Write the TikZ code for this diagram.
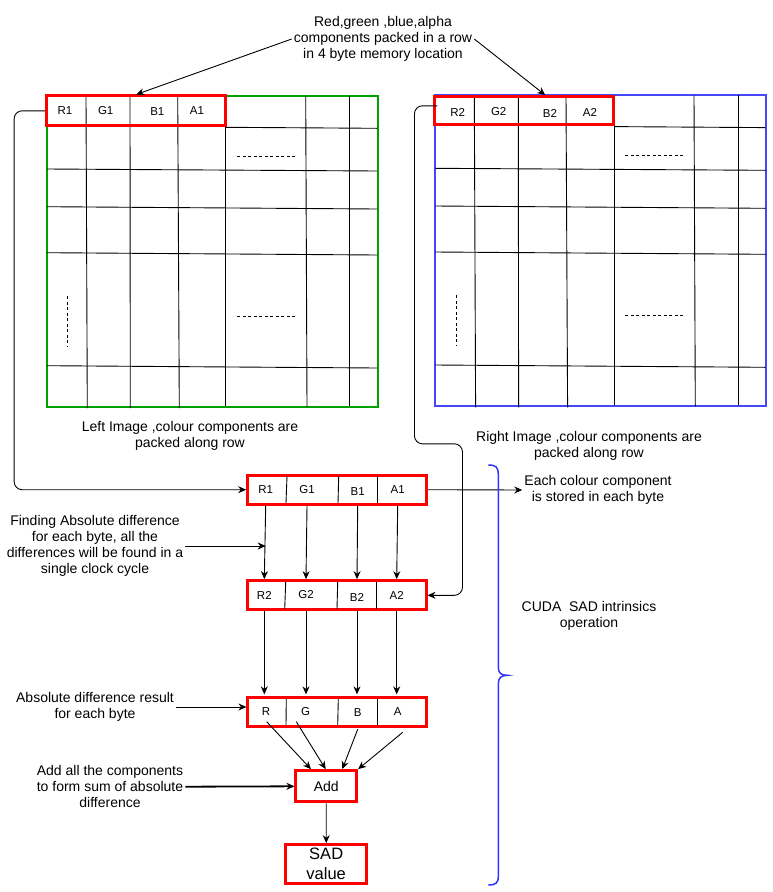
\documentclass[tikz,border=0pt]{standalone}
\usepackage{fontspec}
\setmainfont{Liberation Sans}
\usepackage{xcolor}
\usetikzlibrary{arrows.meta,calc}

\definecolor{imggreen}{RGB}{0,160,0}
\definecolor{imgblue}{RGB}{70,70,255}
\definecolor{bracecol}{RGB}{51,51,255}

\begin{document}
\begin{tikzpicture}[x=1pt, y=-1pt,
    regbox/.style={draw=red, line width=3pt, inner sep=0pt},
    cell/.style={font=\fontsize{11.5}{13}\selectfont, inner sep=1pt},
    note/.style={align=center, font=\fontsize{14}{16.2}\selectfont, inner sep=2pt},
    arrow/.style={-{Stealth[length=8pt,width=7pt]}, line width=0.9pt},
    gridline/.style={line width=0.9pt},
    dots/.style={dash pattern=on 3pt off 2.5pt, line width=0.7pt}
]
    \useasboundingbox (0,0) rectangle (773,892);

    % the two images (left green, right blue)
    \foreach \dx/\dy/\col in {0/0/imggreen, 388.3/0.7/imgblue} {
        \begin{scope}[xshift=\dx, yshift=\dy]
            \draw[\col, line width=2pt] (46.7,96) rectangle (377.7,406.7);
            \draw[gridline] (225.7,127.3) -- (377,128.3);
            \draw[gridline] (47,169) -- (377,171);
            \draw[gridline] (47,206.7) -- (377,209);
            \draw[gridline] (47,252.7) -- (377,255);
            \draw[gridline] (47,365.7) -- (377,368);
            \draw[gridline] (86,96) -- (87.3,408);
            \draw[gridline] (130,96) -- (130.3,408);
            \draw[gridline] (177.7,96) -- (179.3,408);
            \draw[gridline] (225.7,96) -- (225.7,406);
            \draw[gridline] (305.7,96) -- (307,407);
            \draw[gridline] (349.7,96) -- (349.7,406);
            \draw[dots] (237,156.3) -- (295,156.3);
            \draw[dots] (237,316) -- (295,316);
            \draw[dots] (67.7,296) -- (67.7,346.7);
        \end{scope}
    }

    % packed rows in the images
    \node[regbox, minimum width=179.3pt, minimum height=29.7pt] (lrow) at (136.3,110.8) {};
    \node[regbox, minimum width=178.7pt, minimum height=28.3pt] (rrow) at (524.3,110.8) {};
    \node[cell] (lr) at (65,110.7) {R1};
    \node[cell] (lg) at (105.7,110.7) {G1};
    \node[cell] (lb) at (157.3,112) {B1};
    \node[cell] (la) at (197,110.7) {A1};
    \node[cell] (rr) at (457.7,112) {R2};
    \node[cell] (rg) at (498.7,112) {G2};
    \node[cell] (rb) at (550,113) {B2};
    \node[cell] (ra) at (590,112) {A2};

    \node[note] (toptext) at (383,39) {Red,green ,blue,alpha\\components packed in a row\\in 4 byte memory location};
    \node[note] (leftnote) at (190,436) {Left Image ,colour components are\\packed along row};
    \node[note] (rightnote) at (589,446) {Right Image ,colour components are\\packed along row};

    % registers
    \node[regbox, minimum width=179pt, minimum height=28.7pt] (row1) at (337.2,489.7) {};
    \node[regbox, minimum width=179pt, minimum height=29.3pt] (row2) at (336.5,595.3) {};
    \node[regbox, minimum width=178.7pt, minimum height=28.7pt] (row3) at (337.3,711.7) {};
    \draw[gridline] (287,476) -- (286,503);
    \draw[gridline] (338.7,476) -- (338,503);
    \draw[gridline] (377.3,476) -- (377.3,503);
    \draw[gridline] (285.7,582) -- (284.7,609);
    \draw[gridline] (337.7,582) -- (337,609);
    \draw[gridline] (376.7,582) -- (376.7,609);
    \draw[gridline] (286.3,699) -- (286,725);
    \draw[gridline] (338.3,699) -- (337.7,725);
    \draw[gridline] (377.3,699) -- (377.3,725);

    \node[cell] (r1) at (265.7,490) {R1};
    \node[cell] (g1) at (307,490) {G1};
    \node[cell] (b1) at (357.7,492) {B1};
    \node[cell] (a1) at (397.7,490) {A1};
    \node[cell] (r2) at (264.3,595) {R2};
    \node[cell] (g2) at (306,595) {G2};
    \node[cell] (b2) at (357,597) {B2};
    \node[cell] (a2) at (396.7,595) {A2};
    \node[cell] (pr) at (266,711.7) {R};
    \node[cell] (pg) at (305.7,711.7) {G};
    \node[cell] (pb) at (357.7,713) {B};
    \node[cell] (pa) at (397.7,711.7) {A};

    \node[regbox, minimum width=60.7pt, minimum height=31.3pt, font=\fontsize{14}{16}\selectfont] (add) at (326.3,786.3) {Add};
    \node[regbox, minimum width=81pt, minimum height=39.3pt, align=center, font=\fontsize{16.5}{20}\selectfont] (sad) at (326.2,864.3) {SAD\\value};

    \node[note] (eachnote) at (598,490) {Each colour component\\is stored in each byte};
    \node[note] (findnote) at (95,546) {Finding Absolute difference\\for each byte, all the\\differences will be found in a\\single clock cycle};
    \node[note] (absnote) at (95,707) {Absolute difference result\\for each byte};
    \node[note] (addnote) at (110,786.7) {Add all the components\\to form sum of absolute\\difference};
    \node[note] (cudanote) at (589,616) {CUDA\ \ SAD intrinsics\\operation};

    % connectors
    \draw[arrow] (toptext.west) -- (lrow.north);
    \draw[arrow] (toptext.east) -- ([xshift=21pt]rrow.north);
    \draw[arrow, rounded corners=8pt] (lrow.west) -- ++(-31,0) |- (row1.west);
    \draw[arrow, rounded corners=8pt] ($(rrow.west)+(4,-5)$) -- ++(-23,0) |- ++(48,338) |- (row2.east);
    \draw[arrow] (row1.east) -- (eachnote.west);
    \draw[arrow] (findnote.east) -- (findnote.east -| r1);

    \draw[arrow] (r1 |- row1.south) -- (r2 |- row2.north);
    \draw[arrow] (g1 |- row1.south) -- (g2 |- row2.north);
    \draw[arrow] (b1 |- row1.south) -- (b2 |- row2.north);
    \draw[arrow] (a1 |- row1.south) -- (a2 |- row2.north);
    \draw[arrow] (r2 |- row2.south) -- ([yshift=1.5pt]r2 |- row3.north);
    \draw[arrow] (g2 |- row2.south) -- ([yshift=1.5pt]g2 |- row3.north);
    \draw[arrow] (b2 |- row2.south) -- ([yshift=1.5pt]b2 |- row3.north);
    \draw[arrow] (a2 |- row2.south) -- ([yshift=1.5pt]a2 |- row3.north);
    \draw[arrow] (absnote.east) -- (absnote.east -| row3.west);

    \draw[arrow] ($(pr)+(0.7,10)$) -- ($(add.north)+(-15.3,0)$);
    \draw[arrow] ($(pg)+(-9.4,10)$) -- ($(add.north)+(-0.6,0)$);
    \draw[arrow] ($(pb)+(0,16.3)$) -- ($(add.north)+(16,0)$);
    \draw[arrow] ($(pa)+(5,20.6)$) -- (add.north east);
    \draw[arrow, line width=1.8pt] (addnote.east) -- (add.west);
    \draw[arrow] (add) -- (sad);

    % brace
    \draw[bracecol, line width=1.5pt] (488.3,465) .. controls (496,465) and (498.3,467) .. (498.3,475)
        -- (498.3,667) .. controls (498.3,673) and (501,675.3) .. (507.3,675.3)
        .. controls (501,675.3) and (498.3,678) .. (498.3,684)
        -- (498.3,876) .. controls (498.3,883) and (496,885) .. (488.3,885);
\end{tikzpicture}
\end{document}
